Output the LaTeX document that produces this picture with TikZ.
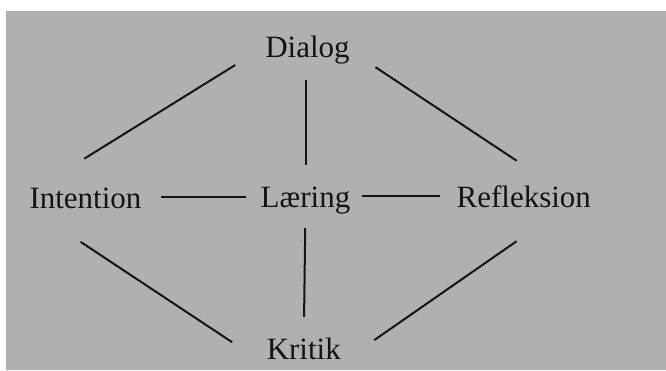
\documentclass[tikz,border=0pt]{standalone}
\usepackage{fontspec}
\setmainfont{Liberation Serif}
\definecolor{paper}{RGB}{176,176,179}
\definecolor{ink}{RGB}{20,20,22}
\begin{document}
\begin{tikzpicture}[x=1pt,y=-1pt,
  lbl/.style={inner sep=0pt, text height=22pt, text depth=0pt, anchor=base,
              font=\fontsize{31}{31}\selectfont, text=ink},
  link/.style={draw=ink, line width=2pt}]
\useasboundingbox (0,0) rectangle (666,370);
\fill[white] (0,0) rectangle (666,370);
\fill[paper] (6,11) rectangle (666,370);

\node[lbl] (dia) at (307.5,57.5) {Dialog};
\node[lbl] (int) at (85.5,208) {Intention};
\node[lbl] (laer) at (305.5,207) {Læring};
\node[lbl] (ref) at (523.8,207) {Refleksion};
\node[lbl] (kri) at (303.8,359.5) {Kritik};

% diagonals
\draw[link, shorten <=35.2pt, shorten >=51.4pt] (dia.west) -- (int.166.4);
\draw[link, shorten <=30.6pt, shorten >=43.5pt] (dia.-5) -- (ref.21);
\draw[link, shorten <=61.5pt, shorten >=31.7pt] (int.191) -- ([xshift=-8pt]kri.south west);
\draw[link, shorten <=59.7pt, shorten >=34.3pt] (ref.345.75) -- ([xshift=5pt]kri.south east);
% horizontals
\draw[link, shorten <=19.5pt, shorten >=14.5pt] (int.east) -- (int.east -| laer.west);
\draw[link, shorten <=12pt, shorten >=16pt] (laer.east) -- (ref.west);
% verticals
\draw[link, shorten <=22.5pt, shorten >=20pt] (dia.south -| laer.north) -- (laer.north);
\draw[link, shorten <=21pt, shorten >=20.5pt] (laer.south) -- (kri.north);
\end{tikzpicture}
\end{document}
